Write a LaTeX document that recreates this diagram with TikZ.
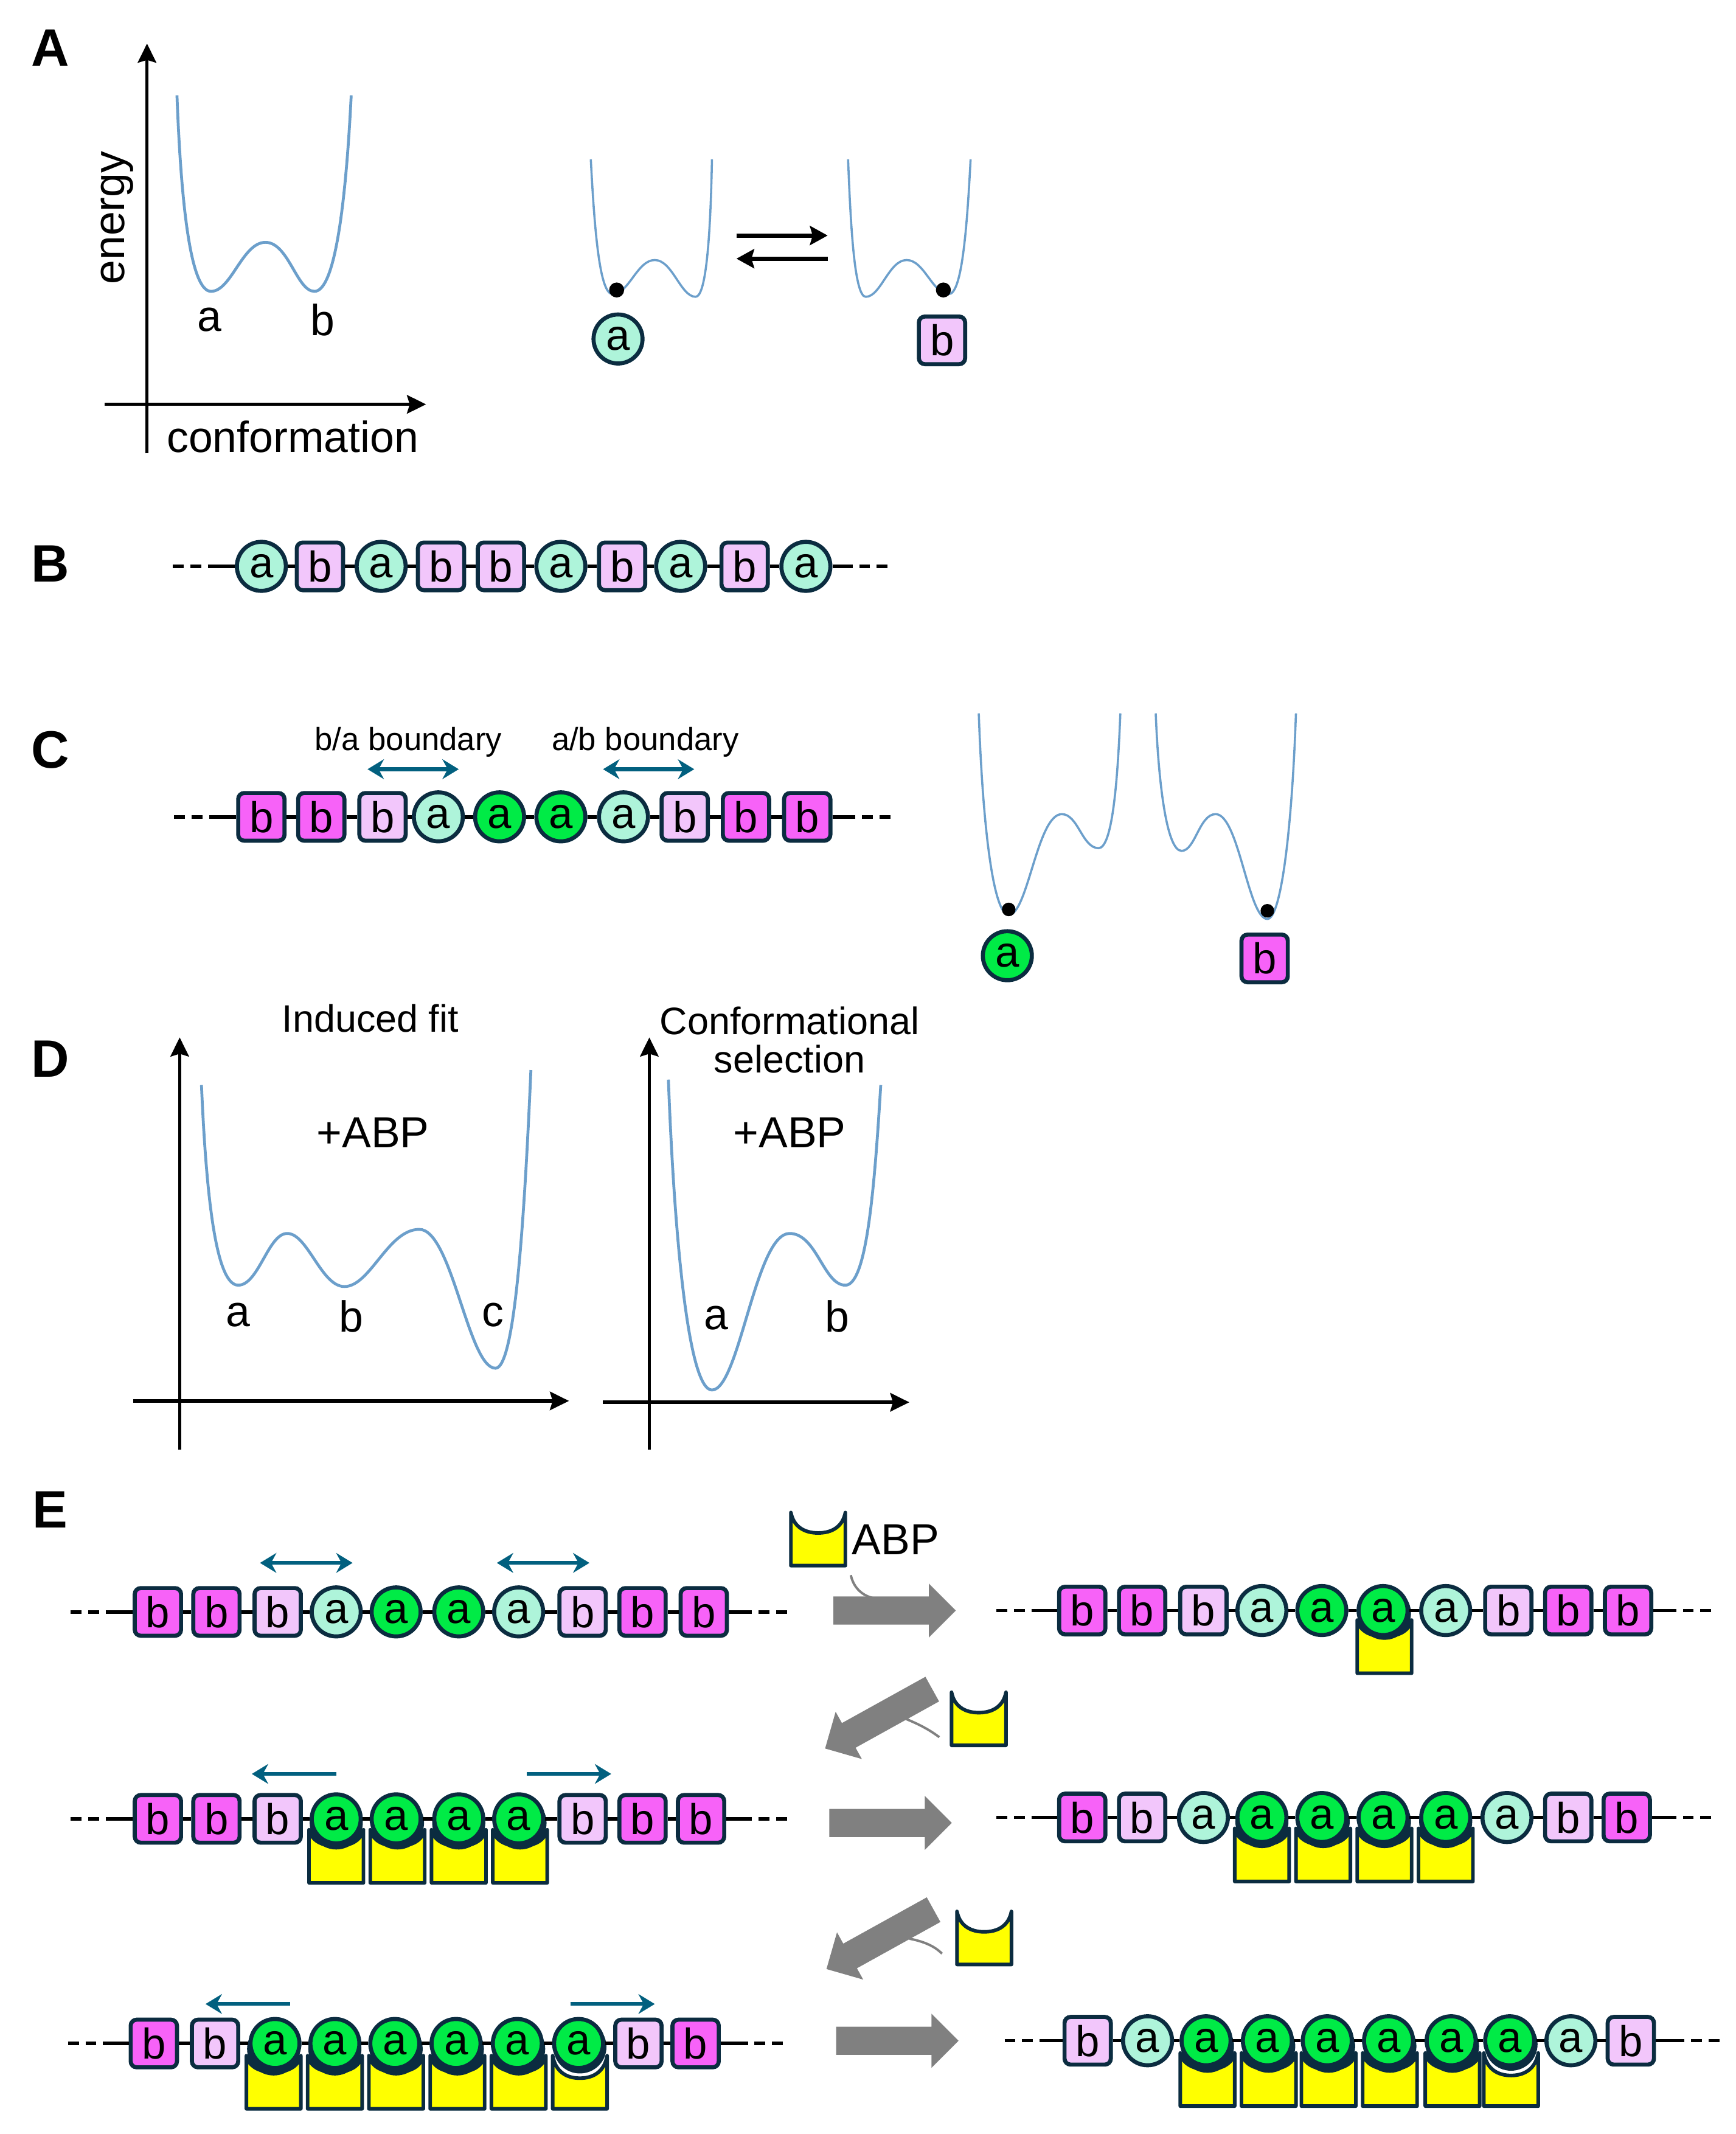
\documentclass[tikz,border=0pt]{standalone}
\usepackage{xcolor}
\usepackage{fontspec}
\setmainfont{Liberation Sans}
\usetikzlibrary{
    arrows.meta,
    shapes.arrows
}
\definecolor{beadline}{HTML}{0B2C40}
\definecolor{paleA}{HTML}{AEF4DA}
\definecolor{deepA}{HTML}{00EB46}
\definecolor{paleB}{HTML}{F2C6FB}
\definecolor{deepB}{HTML}{F762F8}
\definecolor{cupyellow}{RGB}{255,255,0}
\definecolor{wellblue}{HTML}{6C9FCB}
\definecolor{tealarrow}{HTML}{02607F}
\definecolor{bigarrow}{HTML}{808080}
\tikzset{
    beadbase/.style={draw=beadline, line width=1.7pt, inner sep=0pt, font=\fontsize{18}{20}\selectfont},
    la/.style={beadbase, circle, fill=paleA, minimum size=0.72cm},
    ga/.style={beadbase, circle, fill=deepA, minimum size=0.72cm},
    lb/.style={beadbase, rectangle, rounded corners=2.5pt, fill=paleB, minimum width=0.68cm, minimum height=0.70cm},
    mb/.style={beadbase, rectangle, rounded corners=2.5pt, fill=deepB, minimum width=0.68cm, minimum height=0.70cm},
    chainline/.style={black, line width=1.4pt},
    chainend/.style={black, line width=1.4pt, dash pattern=on 4.5pt off 2.8pt},
    wellline/.style={wellblue, line width=1.2pt},
    thinwell/.style={wellblue, line width=0.9pt},
    axisline/.style={-{Stealth[length=2.8mm, width=2.7mm, inset=0.4mm]}, black, line width=1.4pt},
    eqline/.style={-{Stealth[length=2.6mm, width=2.8mm, inset=0.4mm]}, black, line width=1.7pt},
    tealone/.style={-{Stealth[length=2.4mm, width=2.9mm]}, tealarrow, line width=1.6pt},
    tealtwo/.style={{Stealth[length=2.4mm, width=2.9mm]}-{Stealth[length=2.4mm, width=2.9mm]}, tealarrow, line width=1.6pt},
    cupline/.style={draw=beadline, fill=cupyellow, line width=1.5pt, line join=round},
    gogray/.style={single arrow, fill=bigarrow, inner xsep=0pt, inner ysep=0.2cm, minimum height=1.8cm, minimum width=0.78cm, single arrow head extend=0.19cm},
    thingray/.style={bigarrow, line width=1pt},
    lbl/.style={inner sep=0pt, font=\fontsize{18.2}{20}\selectfont},
    midlbl/.style={inner sep=0pt, align=center, font=\fontsize{16}{16}\selectfont},
    smalllbl/.style={inner sep=0pt, font=\fontsize{13.4}{15}\selectfont},
    panellbl/.style={inner sep=0pt, font=\fontsize{22}{24}\selectfont\bfseries}
}
% name, y, left end, right end, beads
\newcommand{\chainrow}[5]{
    \foreach \k/\t/\px [count=\i] in {#5} {
        \node[\k] (#1\i) at (\px,#2) {\t};
        \xdef\lastbead{\i}
    }
    \foreach \i [remember=\i as \j (initially 1)] in {2,...,\lastbead}
        \draw[chainline] (#1\j) -- (#1\i);
    \coordinate (#1la) at (#3,#2);
    \coordinate (#1lb) at ({#3+26},#2);
    \coordinate (#1ra) at ({#4-26},#2);
    \coordinate (#1rb) at (#4,#2);
    \draw[chainend] (#1la) -- (#1lb);
    \draw[chainline] (#1lb) -- (#11);
    \draw[chainline] (#1\lastbead) -- (#1ra);
    \draw[chainend] (#1rb) -- (#1ra);
}
% centre x, top y, depth of the hollow
\newcommand{\abpcup}[3]{
    \draw[cupline] ({#1-20},#2) -- ({#1-20},{#2+39}) -- ({#1+20},{#2+39}) -- ({#1+20},#2)
        .. controls ({#1+18},{#2+#3*0.7}) and ({#1+10},{#2+#3}) .. (#1,{#2+#3})
        .. controls ({#1-10},{#2+#3}) and ({#1-18},{#2+#3*0.7}) .. ({#1-20},#2) -- cycle;
}
% cup with a bead sitting in it: dark rim under the bead
\newcommand{\boundcup}[2]{
    \abpcup{#1}{#2}{12}
    \fill[beadline] (#1,{#2-5}) circle (19.5);
}
% the loose one, a thin gap left under the bead
\newcommand{\loosecup}[2]{
    \abpcup{#1}{#2}{16.5}
    \fill[beadline] (#1,{#2-6.5}) circle (19.5);
}
\begin{document}
\begin{tikzpicture}[x=0.02cm,y=-0.02cm]
    \useasboundingbox (0,0) rectangle (1275,1567.5);

    % A
    \node[panellbl] (pa) at (37,35) {A};
    \coordinate (ay0) at (108,333);
    \coordinate (ay1) at (108,32);
    \coordinate (ax0) at (77,297);
    \coordinate (ax1) at (313,297);
    \draw[axisline] (ay0) -- (ay1);
    \draw[axisline] (ax0) -- (ax1);
    \draw[wellline] (130,70) .. controls (133,150) and (140,214) .. (155,214) .. controls (170,214) and (178,178) .. (195,178) .. controls (212,178) and (218,214) .. (231,214) .. controls (246,214) and (254,150) .. (258,70);
    \node[lbl, rotate=90] (en) at (86,160) {energy};
    \node[lbl] (wa) at (154,235) {a};
    \node[lbl] (wb) at (237,235) {b};
    \node[lbl] (cf) at (215,321) {conformation};
    \draw[thinwell] (434,117) .. controls (437,175) and (441,216) .. (450,216) .. controls (462,216) and (468,191) .. (481,191) .. controls (494,191) and (500,218) .. (511,218) .. controls (519,218) and (522,170) .. (523,117);
    \draw[thinwell] (713,117) .. controls (710,175) and (706,216) .. (697,216) .. controls (685,216) and (679,191) .. (666,191) .. controls (653,191) and (647,218) .. (636,218) .. controls (628,218) and (625,170) .. (623,117);
    \fill[black] (453,213) circle (5.5);
    \fill[black] (693,213) circle (5.5);
    \node[la] (ma) at (454,249) {a};
    \node[lb] (mb) at (692,250) {b};
    \coordinate (eq0) at (541,173);
    \coordinate (eq1) at (608,173);
    \coordinate (eq2) at (608,190);
    \coordinate (eq3) at (541,190);
    \draw[eqline] (eq0) -- (eq1);
    \draw[eqline] (eq2) -- (eq3);

    % B
    \node[panellbl] (pb) at (37,414) {B};
    \chainrow{rb}{416}{127}{652}{la/a/192,lb/b/235,la/a/280,lb/b/324,lb/b/368,la/a/412,lb/b/457,la/a/500,lb/b/547,la/a/592}

    % C
    \node[panellbl] (pc) at (37,551) {C};
    \node[smalllbl] (ba) at (300,545) {b/a boundary};
    \node[smalllbl] (ab) at (474,545) {a/b boundary};
    \chainrow{rc}{600}{128}{654}{mb/b/192,mb/b/236,lb/b/281,la/a/322,ga/a/367,ga/a/412,la/a/458,lb/b/503,mb/b/548,mb/b/593}
    \coordinate (cl0) at (270,565);
    \coordinate (cl1) at (337,565);
    \coordinate (cr0) at (443,565);
    \coordinate (cr1) at (510,565);
    \draw[tealtwo] (cl0) -- (cl1);
    \draw[tealtwo] (cr0) -- (cr1);
    \draw[thinwell] (719,524) .. controls (722,610) and (730,672) .. (741,672) .. controls (755,672) and (762,598) .. (780,598) .. controls (792,598) and (795,623) .. (807,623) .. controls (817,623) and (821,575) .. (823,524);
    \draw[thinwell] (952,524) .. controls (949,610) and (941,675) .. (931,675) .. controls (917,675) and (910,598) .. (893,598) .. controls (881,598) and (878,625) .. (868,625) .. controls (857,625) and (851,575) .. (849,524);
    \fill[black] (741,668) circle (5);
    \fill[black] (931,669) circle (5);
    \node[ga] (ca) at (740,702) {a};
    \node[mb] (cb) at (929,704) {b};

    % D
    \node[panellbl] (pd) at (37,778) {D};
    \node[midlbl] (tif) at (272,748) {Induced fit};
    \node[midlbl] (tcs) at (580,764) {Conformational\\selection};
    \coordinate (dy0) at (132,1065);
    \coordinate (dy1) at (132,762);
    \coordinate (dx0) at (98,1029);
    \coordinate (dx1) at (418,1029);
    \coordinate (ey0) at (477,1065);
    \coordinate (ey1) at (477,762);
    \coordinate (ex0) at (443,1030);
    \coordinate (ex1) at (668,1030);
    \draw[axisline] (dy0) -- (dy1);
    \draw[axisline] (dx0) -- (dx1);
    \draw[axisline] (ey0) -- (ey1);
    \draw[axisline] (ex0) -- (ex1);
    \draw[wellline] (148,797) .. controls (152,890) and (160,944) .. (175,944) .. controls (190,944) and (197,906) .. (211,906) .. controls (226,906) and (236,945) .. (253,945) .. controls (272,945) and (285,903) .. (308,903) .. controls (332,903) and (344,1005) .. (364,1005) .. controls (378,1005) and (385,900) .. (390,786);
    \draw[wellline] (491,793) .. controls (495,900) and (505,1021) .. (523,1021) .. controls (543,1021) and (555,906) .. (580,906) .. controls (600,906) and (605,944) .. (621,944) .. controls (636,944) and (642,880) .. (647,797);
    \node[lbl] (pl1) at (274,832) {+ABP};
    \node[lbl] (pl2) at (580,832) {+ABP};
    \node[lbl] (d1a) at (175,966) {a};
    \node[lbl] (d1b) at (258,967) {b};
    \node[lbl] (d1c) at (362,966) {c};
    \node[lbl] (d2a) at (526,968) {a};
    \node[lbl] (d2b) at (615,967) {b};

    % E
    \node[panellbl] (pe) at (37,1109) {E};
    \abpcup{601}{1111}{15}
    \node[lbl] (abp) at (658,1131) {ABP};
    \boundcup{1017}{1190}
    \abpcup{719}{1243}{15}
    \abpcup{723}{1404}{15}
    \foreach \px in {247,292,337,382} {\boundcup{\px}{1344}}
    \foreach \px in {927,972,1017,1062} {\boundcup{\px}{1343}}
    \foreach \px in {201,246,291,336,381} {\boundcup{\px}{1510}}
    \loosecup{426}{1510}
    \foreach \px in {887,932,976,1021,1067} {\boundcup{\px}{1508}}
    \loosecup{1110}{1508}

    \chainrow{ea}{1184}{52}{578}{mb/b/116,mb/b/159,lb/b/204,la/a/247,ga/a/291,ga/a/337,la/a/381,lb/b/428,mb/b/472,mb/b/517}
    \chainrow{eb}{1183}{732}{1257}{mb/b/795,mb/b/839,lb/b/884,la/a/927,ga/a/971,ga/a/1016,la/a/1062,lb/b/1108,mb/b/1152,mb/b/1196}
    \chainrow{ec}{1336}{52}{578}{mb/b/116,mb/b/159,lb/b/204,ga/a/247,ga/a/291,ga/a/337,ga/a/381,lb/b/428,mb/b/472,mb/b/515}
    \chainrow{ed}{1335}{732}{1257}{mb/b/795,lb/b/839,la/a/884,ga/a/927,ga/a/971,ga/a/1016,ga/a/1062,la/a/1107,lb/b/1152,mb/b/1195}
    \chainrow{ee}{1501}{50}{575}{mb/b/113,lb/b/158,ga/a/202,ga/a/246,ga/a/290,ga/a/335,ga/a/380,ga/a/425,lb/b/469,mb/b/511}
    \chainrow{ef}{1499}{738}{1263}{lb/b/799,la/a/843,ga/a/886,ga/a/931,ga/a/975,ga/a/1020,ga/a/1066,ga/a/1109,la/a/1154,lb/b/1198}

    \coordinate (e1l0) at (191,1148);
    \coordinate (e1l1) at (259,1148);
    \coordinate (e1r0) at (365,1148);
    \coordinate (e1r1) at (433,1148);
    \draw[tealtwo] (e1l0) -- (e1l1);
    \draw[tealtwo] (e1r0) -- (e1r1);
    \coordinate (e2l0) at (247,1303);
    \coordinate (e2l1) at (185,1303);
    \coordinate (e2r0) at (387,1303);
    \coordinate (e2r1) at (449,1303);
    \draw[tealone] (e2l0) -- (e2l1);
    \draw[tealone] (e2r0) -- (e2r1);
    \coordinate (e3l0) at (213,1472);
    \coordinate (e3l1) at (151,1472);
    \coordinate (e3r0) at (419,1472);
    \coordinate (e3r1) at (481,1472);
    \draw[tealone] (e3l0) -- (e3l1);
    \draw[tealone] (e3r0) -- (e3r1);

    \node[gogray] (go1) at (652,1183) {};
    \node[gogray] (go2) at (649,1339) {};
    \node[gogray] (go3) at (654,1499) {};
    \node[gogray, rotate=209] (off1) at (650,1260) {};
    \node[gogray, rotate=209] (off2) at (651,1422) {};
    \coordinate (t1a) at (625,1157);
    \coordinate (t1b) at (642,1174);
    \coordinate (t2a) at (690,1276);
    \coordinate (t2b) at (664,1262);
    \coordinate (t3a) at (692,1435);
    \coordinate (t3b) at (668,1424);
    \draw[thingray] (t1a) .. controls (627,1166) and (633,1172) .. (t1b);
    \draw[thingray] (t2a) .. controls (682,1270) and (674,1266) .. (t2b);
    \draw[thingray] (t3a) .. controls (686,1429) and (678,1426) .. (t3b);
\end{tikzpicture}
\end{document}
